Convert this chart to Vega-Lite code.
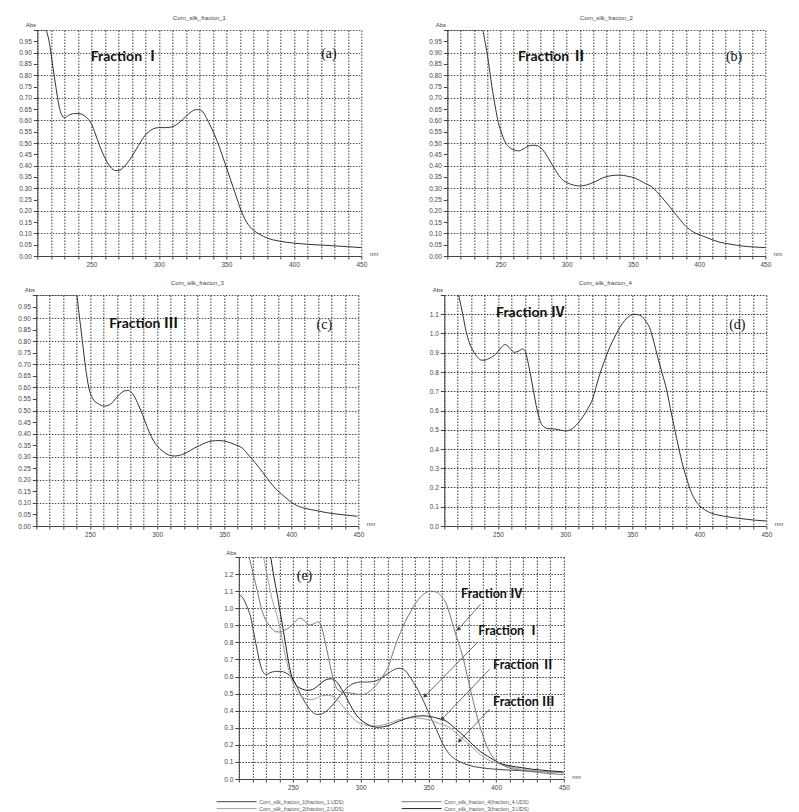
{
 "$schema": "https://vega.github.io/schema/vega-lite/v6.json",
 "padding": {"left": 17, "top": 14, "right": 5, "bottom": 5},
 "background": "white",
 "config": {
  "font": "Liberation Sans",
  "view": {"stroke": null},
  "axis": {"labelFontSize": 6.5, "labelColor": "#444", "domainColor": "#444", "tickColor": "#444", "gridColor": "#222", "gridDash": [1.5, 1.5], "gridOpacity": 0.9, "titleFontSize": 6, "titleFontWeight": "normal", "titleColor": "#444", "tickSize": 4, "labelPadding": 2, "labelFlush": false, "labelOverlap": false},
  "title": {"fontSize": 6, "fontWeight": "normal", "color": "#444", "offset": 0.5},
  "text": {"color": "#111"}
 },
 "datasets": {
  "spectra": [
   {"f":"1","nm":210,"abs":1.08},{"f":"1","nm":213,"abs":1.06},{"f":"1","nm":216,"abs":1.01},{"f":"1","nm":218.7,"abs":0.95},{"f":"1","nm":221.2,"abs":0.85},{"f":"1","nm":223.7,"abs":0.75},{"f":"1","nm":226.2,"abs":0.66},{"f":"1","nm":228,"abs":0.625},{"f":"1","nm":230,"abs":0.612},{"f":"1","nm":233,"abs":0.622},{"f":"1","nm":237,"abs":0.63},{"f":"1","nm":241,"abs":0.63},{"f":"1","nm":244,"abs":0.624},{"f":"1","nm":247,"abs":0.61},{"f":"1","nm":250,"abs":0.585},{"f":"1","nm":253,"abs":0.54},{"f":"1","nm":256,"abs":0.49},{"f":"1","nm":260,"abs":0.435},{"f":"1","nm":264,"abs":0.395},{"f":"1","nm":268,"abs":0.378},{"f":"1","nm":271,"abs":0.38},{"f":"1","nm":275,"abs":0.40},{"f":"1","nm":280,"abs":0.44},{"f":"1","nm":285,"abs":0.49},{"f":"1","nm":290,"abs":0.535},{"f":"1","nm":295,"abs":0.56},{"f":"1","nm":300,"abs":0.568},{"f":"1","nm":305,"abs":0.568},{"f":"1","nm":310,"abs":0.572},{"f":"1","nm":315,"abs":0.59},{"f":"1","nm":320,"abs":0.617},{"f":"1","nm":324,"abs":0.638},{"f":"1","nm":328,"abs":0.648},{"f":"1","nm":331,"abs":0.645},{"f":"1","nm":334,"abs":0.625},{"f":"1","nm":337,"abs":0.59},{"f":"1","nm":341,"abs":0.54},{"f":"1","nm":345,"abs":0.48},{"f":"1","nm":349,"abs":0.41},{"f":"1","nm":353,"abs":0.34},{"f":"1","nm":357,"abs":0.27},{"f":"1","nm":361,"abs":0.2},{"f":"1","nm":365,"abs":0.15},{"f":"1","nm":370,"abs":0.115},{"f":"1","nm":375,"abs":0.095},{"f":"1","nm":380,"abs":0.08},{"f":"1","nm":390,"abs":0.065},{"f":"1","nm":400,"abs":0.057},{"f":"1","nm":415,"abs":0.05},{"f":"1","nm":430,"abs":0.045},{"f":"1","nm":450,"abs":0.037},
   {"f":"2","nm":210,"abs":1.6},{"f":"2","nm":226,"abs":1.38},{"f":"2","nm":229,"abs":1.27},{"f":"2","nm":232,"abs":1.15},{"f":"2","nm":235,"abs":1.04},{"f":"2","nm":236.5,"abs":1.0},{"f":"2","nm":238.4,"abs":0.95},{"f":"2","nm":241,"abs":0.86},{"f":"2","nm":243.5,"abs":0.755},{"f":"2","nm":246.5,"abs":0.65},{"f":"2","nm":248.5,"abs":0.59},{"f":"2","nm":250.3,"abs":0.555},{"f":"2","nm":254,"abs":0.5},{"f":"2","nm":257,"abs":0.48},{"f":"2","nm":260,"abs":0.47},{"f":"2","nm":264,"abs":0.465},{"f":"2","nm":268,"abs":0.476},{"f":"2","nm":272,"abs":0.488},{"f":"2","nm":276,"abs":0.49},{"f":"2","nm":279,"abs":0.485},{"f":"2","nm":282,"abs":0.47},{"f":"2","nm":285,"abs":0.445},{"f":"2","nm":288,"abs":0.415},{"f":"2","nm":291,"abs":0.385},{"f":"2","nm":294.3,"abs":0.355},{"f":"2","nm":298,"abs":0.332},{"f":"2","nm":302,"abs":0.32},{"f":"2","nm":306,"abs":0.313},{"f":"2","nm":310,"abs":0.31},{"f":"2","nm":314,"abs":0.313},{"f":"2","nm":318,"abs":0.32},{"f":"2","nm":322,"abs":0.33},{"f":"2","nm":327,"abs":0.345},{"f":"2","nm":333,"abs":0.355},{"f":"2","nm":340,"abs":0.358},{"f":"2","nm":346,"abs":0.353},{"f":"2","nm":352,"abs":0.344},{"f":"2","nm":358,"abs":0.325},{"f":"2","nm":364.7,"abs":0.304},{"f":"2","nm":371,"abs":0.265},{"f":"2","nm":377.3,"abs":0.222},{"f":"2","nm":383,"abs":0.18},{"f":"2","nm":389.8,"abs":0.133},{"f":"2","nm":396,"abs":0.105},{"f":"2","nm":402.5,"abs":0.089},{"f":"2","nm":409,"abs":0.074},{"f":"2","nm":415,"abs":0.062},{"f":"2","nm":424,"abs":0.052},{"f":"2","nm":432.6,"abs":0.044},{"f":"2","nm":441,"abs":0.04},{"f":"2","nm":450,"abs":0.037},
   {"f":"3","nm":210,"abs":1.7},{"f":"3","nm":230,"abs":1.42},{"f":"3","nm":233,"abs":1.32},{"f":"3","nm":236,"abs":1.18},{"f":"3","nm":239,"abs":1.05},{"f":"3","nm":240,"abs":1.0},{"f":"3","nm":241.7,"abs":0.925},{"f":"3","nm":244.2,"abs":0.806},{"f":"3","nm":246.7,"abs":0.686},{"f":"3","nm":249.2,"abs":0.597},{"f":"3","nm":252,"abs":0.552},{"f":"3","nm":255.9,"abs":0.53},{"f":"3","nm":260.9,"abs":0.519},{"f":"3","nm":265.8,"abs":0.53},{"f":"3","nm":269,"abs":0.55},{"f":"3","nm":272,"abs":0.57},{"f":"3","nm":275,"abs":0.583},{"f":"3","nm":278.2,"abs":0.587},{"f":"3","nm":281,"abs":0.578},{"f":"3","nm":283.2,"abs":0.56},{"f":"3","nm":286,"abs":0.525},{"f":"3","nm":289.4,"abs":0.478},{"f":"3","nm":292.5,"abs":0.43},{"f":"3","nm":295.6,"abs":0.388},{"f":"3","nm":298.5,"abs":0.358},{"f":"3","nm":301.8,"abs":0.336},{"f":"3","nm":305.5,"abs":0.318},{"f":"3","nm":309.3,"abs":0.306},{"f":"3","nm":313,"abs":0.303},{"f":"3","nm":316.7,"abs":0.306},{"f":"3","nm":320,"abs":0.312},{"f":"3","nm":324.2,"abs":0.325},{"f":"3","nm":328,"abs":0.338},{"f":"3","nm":331.6,"abs":0.348},{"f":"3","nm":336,"abs":0.36},{"f":"3","nm":341,"abs":0.368},{"f":"3","nm":346,"abs":0.37},{"f":"3","nm":351.5,"abs":0.366},{"f":"3","nm":357,"abs":0.355},{"f":"3","nm":363.8,"abs":0.336},{"f":"3","nm":368.5,"abs":0.305},{"f":"3","nm":373.8,"abs":0.269},{"f":"3","nm":379,"abs":0.23},{"f":"3","nm":383.7,"abs":0.194},{"f":"3","nm":388.5,"abs":0.16},{"f":"3","nm":393.6,"abs":0.134},{"f":"3","nm":398.5,"abs":0.11},{"f":"3","nm":403.6,"abs":0.09},{"f":"3","nm":410,"abs":0.077},{"f":"3","nm":418.5,"abs":0.067},{"f":"3","nm":426,"abs":0.058},{"f":"3","nm":433.4,"abs":0.052},{"f":"3","nm":441,"abs":0.047},{"f":"3","nm":449.5,"abs":0.042},
   {"f":"4","nm":217,"abs":1.32},{"f":"4","nm":220.7,"abs":1.2},{"f":"4","nm":223.7,"abs":1.1},{"f":"4","nm":226.2,"abs":1.012},{"f":"4","nm":228.7,"abs":0.951},{"f":"4","nm":232.4,"abs":0.899},{"f":"4","nm":235,"abs":0.875},{"f":"4","nm":237.4,"abs":0.862},{"f":"4","nm":240,"abs":0.861},{"f":"4","nm":242.3,"abs":0.867},{"f":"4","nm":245,"abs":0.876},{"f":"4","nm":247.3,"abs":0.887},{"f":"4","nm":249.2,"abs":0.9},{"f":"4","nm":251,"abs":0.916},{"f":"4","nm":253,"abs":0.932},{"f":"4","nm":254.8,"abs":0.942},{"f":"4","nm":256.5,"abs":0.94},{"f":"4","nm":258.5,"abs":0.925},{"f":"4","nm":260.5,"abs":0.91},{"f":"4","nm":262.2,"abs":0.902},{"f":"4","nm":264,"abs":0.905},{"f":"4","nm":266,"abs":0.911},{"f":"4","nm":268.4,"abs":0.92},{"f":"4","nm":270,"abs":0.912},{"f":"4","nm":271.4,"abs":0.881},{"f":"4","nm":273,"abs":0.83},{"f":"4","nm":274.7,"abs":0.768},{"f":"4","nm":276.5,"abs":0.7},{"f":"4","nm":278.4,"abs":0.628},{"f":"4","nm":280.3,"abs":0.57},{"f":"4","nm":282.2,"abs":0.532},{"f":"4","nm":284.5,"abs":0.514},{"f":"4","nm":287.1,"abs":0.506},{"f":"4","nm":290,"abs":0.505},{"f":"4","nm":293.4,"abs":0.503},{"f":"4","nm":297,"abs":0.497},{"f":"4","nm":300.8,"abs":0.494},{"f":"4","nm":304,"abs":0.5},{"f":"4","nm":307,"abs":0.515},{"f":"4","nm":310,"abs":0.537},{"f":"4","nm":313.2,"abs":0.567},{"f":"4","nm":317,"abs":0.61},{"f":"4","nm":320.7,"abs":0.663},{"f":"4","nm":323,"abs":0.72},{"f":"4","nm":325.7,"abs":0.785},{"f":"4","nm":329.5,"abs":0.86},{"f":"4","nm":333.1,"abs":0.925},{"f":"4","nm":337,"abs":0.982},{"f":"4","nm":340.6,"abs":1.03},{"f":"4","nm":344.5,"abs":1.068},{"f":"4","nm":348,"abs":1.091},{"f":"4","nm":351.8,"abs":1.1},{"f":"4","nm":356.8,"abs":1.091},{"f":"4","nm":360,"abs":1.065},{"f":"4","nm":363,"abs":1.03},{"f":"4","nm":366,"abs":0.96},{"f":"4","nm":369.2,"abs":0.873},{"f":"4","nm":372.3,"abs":0.795},{"f":"4","nm":375.4,"abs":0.716},{"f":"4","nm":378.5,"abs":0.61},{"f":"4","nm":381.6,"abs":0.506},{"f":"4","nm":384.7,"abs":0.405},{"f":"4","nm":387.8,"abs":0.314},{"f":"4","nm":391,"abs":0.238},{"f":"4","nm":394.1,"abs":0.175},{"f":"4","nm":397,"abs":0.135},{"f":"4","nm":400.3,"abs":0.105},{"f":"4","nm":404,"abs":0.085},{"f":"4","nm":407.8,"abs":0.07},{"f":"4","nm":414,"abs":0.057},{"f":"4","nm":420.2,"abs":0.049},{"f":"4","nm":427,"abs":0.042},{"f":"4","nm":435.2,"abs":0.035},{"f":"4","nm":442,"abs":0.03},{"f":"4","nm":450,"abs":0.026}
  ],
  "labels": [
   {"panel":"a","kind":"frac","text":"Fraction Ⅰ","nm":275,"abs":0.88},
   {"panel":"a","kind":"tag","text":"(a)","nm":426,"abs":0.893},
   {"panel":"b","kind":"frac","text":"Fraction Ⅱ","nm":289.2,"abs":0.879},
   {"panel":"b","kind":"tag","text":"(b)","nm":426.4,"abs":0.879},
   {"panel":"c","kind":"frac","text":"Fraction Ⅲ","nm":289.9,"abs":0.876},
   {"panel":"c","kind":"tag","text":"(c)","nm":424.7,"abs":0.868},
   {"panel":"d","kind":"frac","text":"Fraction Ⅳ","nm":274.2,"abs":1.105},
   {"panel":"d","kind":"tag","text":"(d)","nm":428.4,"abs":1.042},
   {"panel":"e","kind":"tag","text":"(e)","nm":258.5,"abs":1.187},
   {"panel":"e","kind":"frac","text":"Fraction Ⅳ","nm":396.8,"abs":1.082},
   {"panel":"e","kind":"frac","text":"Fraction Ⅰ","nm":409.5,"abs":0.866},
   {"panel":"e","kind":"frac","text":"Fraction Ⅱ","nm":420.4,"abs":0.667},
   {"panel":"e","kind":"frac","text":"Fraction Ⅲ","nm":420.4,"abs":0.45}
  ],
  "arrows": [
   {"nm":388.5,"abs":1.023,"nm2":372,"abs2":0.877},
   {"nm":386.3,"abs":0.80,"nm2":347.3,"abs2":0.485},
   {"nm":395.3,"abs":0.643,"nm2":360,"abs2":0.351},
   {"nm":395.3,"abs":0.409,"nm2":372.8,"abs2":0.222}
  ]
 },
 "vconcat": [
  {
   "hconcat": [
    {
     "width": 324, "height": 226,
     "title": "Corn_silk_fracion_1",
     "encoding": {
      "x": {"field": "nm", "type": "quantitative", "scale": {"domain": [210, 450], "nice": false, "zero": false}, "axis": {"title": "nm", "titleX": 332, "titleY": -3, "titleAlign": "left", "titleBaseline": "middle", "values": [210,220,230,240,250,260,270,280,290,300,310,320,330,340,350,360,370,380,390,400,410,420,430,440,450], "labelExpr": "datum.value % 50 == 0 ? datum.label : ''", "tickSize": 3}},
      "y": {"field": "abs", "type": "quantitative", "scale": {"domain": [0, 1], "nice": false, "clamp": true}, "axis": {"title": "Abs", "titleAngle": 0, "titleX": -7, "titleY": -4, "titleAlign": "center", "titleBaseline": "alphabetic", "values": [0,0.05,0.1,0.15,0.2,0.25,0.3,0.35,0.4,0.45,0.5,0.55,0.6,0.65,0.7,0.75,0.8,0.85,0.9,0.95,1], "labelExpr": "datum.value > 0.99 ? '' : format(datum.value, '.2f')", "gridOpacity": {"condition": {"test": "abs(datum.value*10 - round(datum.value*10)) < 0.01", "value": 0.9}, "value": 0}}}
     },
     "layer": [
      {"data": {"name": "spectra"}, "transform": [{"filter": "datum.f == '1'"}], "mark": {"type": "line", "interpolate": "monotone", "clip": true, "color": "#333", "strokeWidth": 1}},
      {"data": {"name": "labels"}, "transform": [{"filter": "datum.panel == 'a' && datum.kind == 'frac'"}], "mark": {"type": "text", "font": "Lato, Noto Sans CJK SC", "fontWeight": "bold", "fontSize": 14}, "encoding": {"text": {"field": "text"}}},
      {"data": {"name": "labels"}, "transform": [{"filter": "datum.panel == 'a' && datum.kind == 'tag'"}], "mark": {"type": "text", "font": "Liberation Serif", "fontSize": 14}, "encoding": {"text": {"field": "text"}}}
     ]
    },
    {
     "width": 318, "height": 226,
     "title": "Corn_silk_fracion_2",
     "encoding": {
      "x": {"field": "nm", "type": "quantitative", "scale": {"domain": [210, 450], "nice": false, "zero": false}, "axis": {"title": "nm", "titleX": 326, "titleY": -3, "titleAlign": "left", "titleBaseline": "middle", "values": [210,220,230,240,250,260,270,280,290,300,310,320,330,340,350,360,370,380,390,400,410,420,430,440,450], "labelExpr": "datum.value % 50 == 0 ? datum.label : ''", "tickSize": 3}},
      "y": {"field": "abs", "type": "quantitative", "scale": {"domain": [0, 1], "nice": false, "clamp": true}, "axis": {"title": "Abs", "titleAngle": 0, "titleX": -7, "titleY": -4, "titleAlign": "center", "titleBaseline": "alphabetic", "values": [0,0.05,0.1,0.15,0.2,0.25,0.3,0.35,0.4,0.45,0.5,0.55,0.6,0.65,0.7,0.75,0.8,0.85,0.9,0.95,1], "labelExpr": "datum.value > 0.99 ? '' : format(datum.value, '.2f')", "gridOpacity": {"condition": {"test": "abs(datum.value*10 - round(datum.value*10)) < 0.01", "value": 0.9}, "value": 0}}}
     },
     "layer": [
      {"data": {"name": "spectra"}, "transform": [{"filter": "datum.f == '2'"}], "mark": {"type": "line", "interpolate": "monotone", "clip": true, "color": "#333", "strokeWidth": 1}},
      {"data": {"name": "labels"}, "transform": [{"filter": "datum.panel == 'b' && datum.kind == 'frac'"}], "mark": {"type": "text", "font": "Lato, Noto Sans CJK SC", "fontWeight": "bold", "fontSize": 14}, "encoding": {"text": {"field": "text"}}},
      {"data": {"name": "labels"}, "transform": [{"filter": "datum.panel == 'b' && datum.kind == 'tag'"}], "mark": {"type": "text", "font": "Liberation Serif", "fontSize": 14}, "encoding": {"text": {"field": "text"}}}
     ]
    }
   ],
   "spacing": 86,
   "bounds": "flush"
  },
  {
   "hconcat": [
    {
     "width": 322, "height": 231,
     "title": "Corn_silk_fracion_3",
     "encoding": {
      "x": {"field": "nm", "type": "quantitative", "scale": {"domain": [210, 450], "nice": false, "zero": false}, "axis": {"title": "nm", "titleX": 330, "titleY": -3, "titleAlign": "left", "titleBaseline": "middle", "values": [210,220,230,240,250,260,270,280,290,300,310,320,330,340,350,360,370,380,390,400,410,420,430,440,450], "labelExpr": "datum.value % 50 == 0 ? datum.label : ''", "tickSize": 3}},
      "y": {"field": "abs", "type": "quantitative", "scale": {"domain": [0, 1], "nice": false, "clamp": true}, "axis": {"title": "Abs", "titleAngle": 0, "titleX": -7, "titleY": -4, "titleAlign": "center", "titleBaseline": "alphabetic", "values": [0,0.05,0.1,0.15,0.2,0.25,0.3,0.35,0.4,0.45,0.5,0.55,0.6,0.65,0.7,0.75,0.8,0.85,0.9,0.95,1], "labelExpr": "datum.value > 0.99 ? '' : format(datum.value, '.2f')", "gridOpacity": {"condition": {"test": "abs(datum.value*10 - round(datum.value*10)) < 0.01", "value": 0.9}, "value": 0}}}
     },
     "layer": [
      {"data": {"name": "spectra"}, "transform": [{"filter": "datum.f == '3'"}], "mark": {"type": "line", "interpolate": "monotone", "clip": true, "color": "#333", "strokeWidth": 1}},
      {"data": {"name": "labels"}, "transform": [{"filter": "datum.panel == 'c' && datum.kind == 'frac'"}], "mark": {"type": "text", "font": "Lato, Noto Sans CJK SC", "fontWeight": "bold", "fontSize": 14}, "encoding": {"text": {"field": "text"}}},
      {"data": {"name": "labels"}, "transform": [{"filter": "datum.panel == 'c' && datum.kind == 'tag'"}], "mark": {"type": "text", "font": "Liberation Serif", "fontSize": 14}, "encoding": {"text": {"field": "text"}}}
     ]
    },
    {
     "width": 322, "height": 231,
     "title": "Corn_silk_fracion_4",
     "encoding": {
      "x": {"field": "nm", "type": "quantitative", "scale": {"domain": [210, 450], "nice": false, "zero": false}, "axis": {"title": "nm", "titleX": 330, "titleY": -3, "titleAlign": "left", "titleBaseline": "middle", "values": [210,220,230,240,250,260,270,280,290,300,310,320,330,340,350,360,370,380,390,400,410,420,430,440,450], "labelExpr": "datum.value % 50 == 0 ? datum.label : ''", "tickSize": 3}},
      "y": {"field": "abs", "type": "quantitative", "scale": {"domain": [0, 1.2], "nice": false}, "axis": {"title": "Abs", "titleAngle": 0, "titleX": -7, "titleY": -4, "titleAlign": "center", "titleBaseline": "alphabetic", "values": [0,0.1,0.2,0.3,0.4,0.5,0.6,0.7,0.8,0.9,1,1.1,1.2], "labelExpr": "datum.value > 1.15 ? '' : format(datum.value, '.1f')"}}
     },
     "layer": [
      {"data": {"name": "spectra"}, "transform": [{"filter": "datum.f == '4'"}], "mark": {"type": "line", "interpolate": "monotone", "clip": true, "color": "#333", "strokeWidth": 1}},
      {"data": {"name": "labels"}, "transform": [{"filter": "datum.panel == 'd' && datum.kind == 'frac'"}], "mark": {"type": "text", "font": "Lato, Noto Sans CJK SC", "fontWeight": "bold", "fontSize": 14}, "encoding": {"text": {"field": "text"}}},
      {"data": {"name": "labels"}, "transform": [{"filter": "datum.panel == 'd' && datum.kind == 'tag'"}], "mark": {"type": "text", "font": "Liberation Serif", "fontSize": 14}, "encoding": {"text": {"field": "text"}}}
     ]
    }
   ],
   "spacing": 86,
   "bounds": "flush"
  },
  {
   "width": 325, "height": 222,
   "encoding": {
    "x": {"field": "nm", "type": "quantitative", "scale": {"domain": [210, 450], "nice": false, "zero": false}, "axis": {"title": "nm", "titleX": 333, "titleY": -3, "titleAlign": "left", "titleBaseline": "middle", "values": [210,220,230,240,250,260,270,280,290,300,310,320,330,340,350,360,370,380,390,400,410,420,430,440,450], "labelExpr": "datum.value % 50 == 0 ? datum.label : ''", "tickSize": 3}},
    "y": {"field": "abs", "type": "quantitative", "scale": {"domain": [0, 1.3], "nice": false}, "axis": {"title": "Abs", "titleAngle": 0, "titleX": -8, "titleY": -3, "titleAlign": "center", "titleBaseline": "alphabetic", "values": [0,0.1,0.2,0.3,0.4,0.5,0.6,0.7,0.8,0.9,1,1.1,1.2,1.3], "labelExpr": "datum.value > 1.25 ? '' : format(datum.value, '.1f')"}}
   },
   "layer": [
    {"data": {"name": "spectra"}, "mark": {"type": "line", "interpolate": "monotone", "clip": true, "strokeWidth": 1},
     "encoding": {"color": {"field": "f", "type": "nominal", "scale": {"domain": ["1", "4", "2", "3"], "range": ["#444444", "#777777", "#a0a0a0", "#222222"]},
      "legend": {"orient": "none", "legendX": 198, "legendY": 769, "padding": 0, "columns": 2, "direction": "horizontal", "title": null, "symbolType": "M-10,0H10", "symbolSize": 16, "symbolStrokeWidth": 1, "symbolFillColor": "transparent", "labelFontSize": 5.2, "labelColor": "#555", "labelOffset": 20, "rowPadding": 1, "columnPadding": 55, "labelLimit": 200, "labelExpr": "'Corn_silk_fracion_' + datum.label + '(fraction_' + datum.label + '.UDS)'"}}}},
    {"data": {"name": "arrows"}, "mark": {"type": "rule", "color": "#444", "strokeWidth": 0.8}, "encoding": {"x2": {"field": "nm2"}, "y2": {"field": "abs2"}}},
    {"data": {"name": "arrows"}, "mark": {"type": "point", "shape": "triangle-down", "angle": 45, "filled": true, "size": 22, "color": "#444", "opacity": 1}, "encoding": {"x": {"field": "nm2", "type": "quantitative"}, "y": {"field": "abs2", "type": "quantitative"}}},
    {"data": {"name": "labels"}, "transform": [{"filter": "datum.panel == 'e' && datum.kind == 'frac'"}], "mark": {"type": "text", "font": "Lato, Noto Sans CJK SC", "fontWeight": "bold", "fontSize": 12.5}, "encoding": {"text": {"field": "text"}}},
    {"data": {"name": "labels"}, "transform": [{"filter": "datum.panel == 'e' && datum.kind == 'tag'"}], "mark": {"type": "text", "font": "Liberation Serif", "fontSize": 14}, "encoding": {"text": {"field": "text"}}}
   ]
  }
 ],
 "spacing": 11,
 "center": true
}
